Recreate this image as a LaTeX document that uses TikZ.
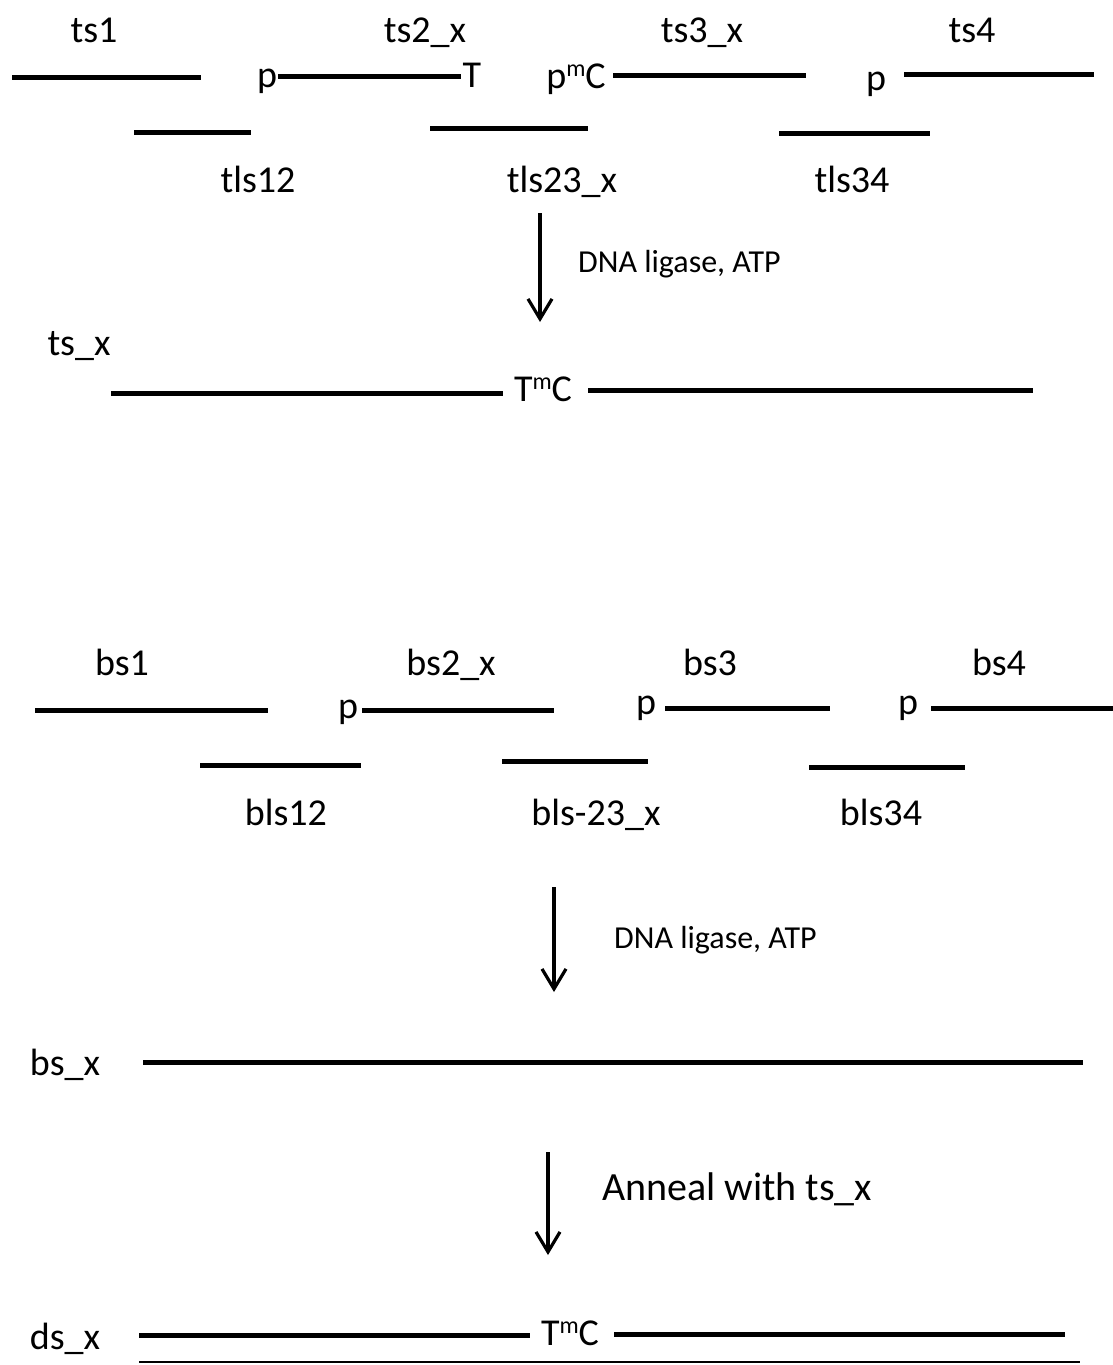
\documentclass[tikz,border=0pt]{standalone}
\usepackage{fontspec}
\setmainfont{Carlito}
\usetikzlibrary{arrows.meta}
\newcommand\mysupm{\raisebox{12pt}{\fontsize{24}{24}\selectfont m}}
\tikzset{
  lbl/.style={font=\fontsize{38}{40}\selectfont, inner sep=0pt, anchor=base},
  small/.style={font=\fontsize{32}{34}\selectfont, inner sep=0pt, anchor=base west},
  big/.style={font=\fontsize{40}{42}\selectfont, inner sep=0pt, anchor=base west},
  strand/.style={line width=5pt},
  thin strand/.style={line width=2.5pt},
  rxn/.style={line width=3.2pt, -{Straight Barb[length=20pt,width=24pt,line width=3.2pt]}}
}
\begin{document}
\begin{tikzpicture}[x=1pt,y=-1pt]
\useasboundingbox (0,0) rectangle (1113,1365);
% ---------- top strand oligos ----------
\node[lbl] (ts1) at (94,42) {ts1};
\node[lbl] (ts2) at (425,42) {ts2\_x};
\node[lbl] (ts3) at (702,42) {ts3\_x};
\node[lbl] (ts4) at (972,42) {ts4};
\draw[strand] (12,77) -- (201,77);
\node[lbl] (p2) at (267,87) {p};
\draw[strand] (278,76) -- (461,76);
\node[lbl] (T2) at (472,87) {T};
\node[lbl] (pmC) at (576,88) {p\mysupm C};
\draw[strand] (613,75) -- (806,75);
\node[lbl] (p4) at (876,90) {p};
\draw[strand] (904,74) -- (1094,74);
\draw[strand] (134,132) -- (251,132);
\node[lbl] (tls12) at (258,192) {tls12};
\draw[strand] (430,128) -- (588,128);
\node[lbl] (tls23) at (562,192) {tls23\_x};
\draw[strand] (779,133) -- (930,133);
\node[lbl] (tls34) at (852,192) {tls34};
% ---------- ligation 1 ----------
\coordinate (a1s) at (540,213);
\coordinate (a1e) at (540,322);
\draw[rxn] (a1s) -- (a1e);
\node[small] (lig1) at (578,272) {DNA ligase, ATP};
\node[lbl] (tsx) at (79,355) {ts\_x};
\draw[strand] (111,393) -- (503,393);
\node[lbl] (TmC1) at (543,401) {T\mysupm C};
\draw[strand] (588,390) -- (1033,390);
% ---------- bottom strand oligos ----------
\node[lbl] (bs1) at (122,675) {bs1};
\node[lbl] (bs2) at (451,675) {bs2\_x};
\node[lbl] (bs3) at (710,675) {bs3};
\node[lbl] (bs4) at (999,675) {bs4};
\draw[strand] (35,710) -- (268,710);
\node[lbl] (bp2) at (348,718) {p};
\draw[strand] (362,710) -- (554,710);
\node[lbl] (bp3) at (646,714) {p};
\draw[strand] (665,708) -- (830,708);
\node[lbl] (bp4) at (908,714) {p};
\draw[strand] (931,708) -- (1113,708);
\draw[strand] (200,765) -- (361,765);
\node[lbl] (bls12) at (286,825) {bls12};
\draw[strand] (502,761) -- (648,761);
\node[lbl] (bls23) at (596,825) {bls-23\_x};
\draw[strand] (809,767) -- (965,767);
\node[lbl] (bls34) at (881,825) {bls34};
% ---------- ligation 2 ----------
\coordinate (a2s) at (554,887);
\coordinate (a2e) at (554,992);
\draw[rxn] (a2s) -- (a2e);
\node[small] (lig2) at (614,948) {DNA ligase, ATP};
\node[lbl] (bsx) at (65,1075) {bs\_x};
\draw[strand] (143,1062) -- (1083,1062);
% ---------- annealing ----------
\coordinate (a3s) at (548,1152);
\coordinate (a3e) at (548,1255);
\draw[rxn] (a3s) -- (a3e);
\node[big] (ann) at (602,1200) {Anneal with ts\_x};
\node[lbl] (dsx) at (65,1349) {ds\_x};
\draw[strand] (139,1335) -- (530,1335);
\node[lbl] (TmC2) at (570,1345) {T\mysupm C};
\draw[strand] (614,1334) -- (1065,1334);
\draw[thin strand] (139,1362) -- (1080,1362);
\end{tikzpicture}
\end{document}
